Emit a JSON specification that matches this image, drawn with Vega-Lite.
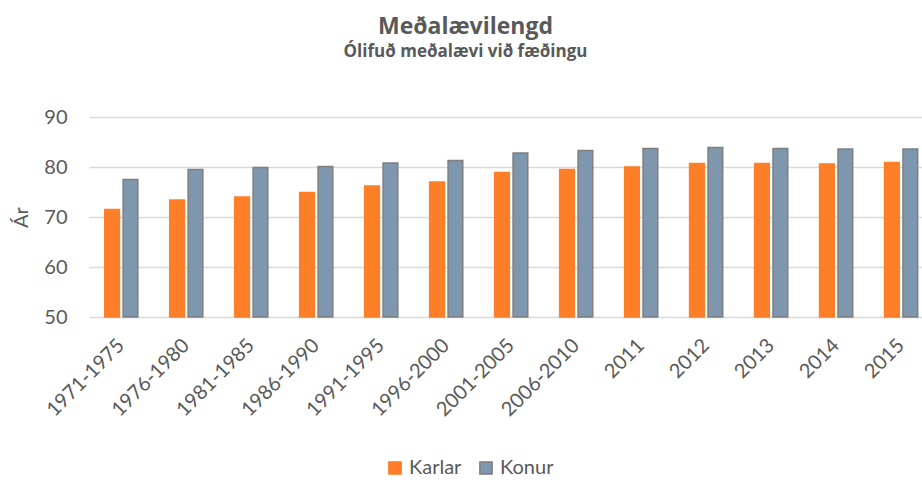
{
  "$schema": "https://vega.github.io/schema/vega-lite/v6.json",
  "autosize": {"type": "none"},
  "width": 833,
  "height": 200,
  "padding": {"left": 89, "top": 117, "right": 0, "bottom": 163},
  "background": "white",
  "config": {
    "font": "Lato",
    "view": {"stroke": null}
  },
  "title": {
    "text": "Meðalævilengd",
    "subtitle": "Ólifuð meðalævi við fæðingu",
    "anchor": "middle",
    "frame": "group",
    "dx": -40,
    "offset": 47,
    "font": "Open Sans",
    "subtitleFont": "Open Sans",
    "fontSize": 23,
    "fontWeight": "bold",
    "color": "#595959",
    "subtitleFontSize": 17,
    "subtitleFontWeight": "bold",
    "subtitleColor": "#595959",
    "subtitlePadding": 5
  },
  "data": {
    "values": [
      {"period": "1971-1975", "series": "Karlar", "value": 71.5},
      {"period": "1971-1975", "series": "Konur", "value": 77.5},
      {"period": "1976-1980", "series": "Karlar", "value": 73.4},
      {"period": "1976-1980", "series": "Konur", "value": 79.5},
      {"period": "1981-1985", "series": "Karlar", "value": 74.0},
      {"period": "1981-1985", "series": "Konur", "value": 79.9},
      {"period": "1986-1990", "series": "Karlar", "value": 74.9},
      {"period": "1986-1990", "series": "Konur", "value": 80.1},
      {"period": "1991-1995", "series": "Karlar", "value": 76.2},
      {"period": "1991-1995", "series": "Konur", "value": 80.8},
      {"period": "1996-2000", "series": "Karlar", "value": 77.0},
      {"period": "1996-2000", "series": "Konur", "value": 81.3},
      {"period": "2001-2005", "series": "Karlar", "value": 78.9},
      {"period": "2001-2005", "series": "Konur", "value": 82.8},
      {"period": "2006-2010", "series": "Karlar", "value": 79.5},
      {"period": "2006-2010", "series": "Konur", "value": 83.3},
      {"period": "2011", "series": "Karlar", "value": 80.0},
      {"period": "2011", "series": "Konur", "value": 83.7},
      {"period": "2012", "series": "Karlar", "value": 80.7},
      {"period": "2012", "series": "Konur", "value": 83.9},
      {"period": "2013", "series": "Karlar", "value": 80.7},
      {"period": "2013", "series": "Konur", "value": 83.7},
      {"period": "2014", "series": "Karlar", "value": 80.6},
      {"period": "2014", "series": "Konur", "value": 83.6},
      {"period": "2015", "series": "Karlar", "value": 80.9},
      {"period": "2015", "series": "Konur", "value": 83.6}
    ]
  },
  "mark": {"type": "bar", "strokeWidth": 1.5},
  "encoding": {
    "x": {
      "field": "period",
      "type": "nominal",
      "sort": null,
      "scale": {"paddingInner": 0.49, "paddingOuter": 0.154, "align": 0.785},
      "axis": {
        "title": null,
        "labelAngle": -45,
        "labelAlign": "right",
        "labelBaseline": "middle",
        "labelFontSize": 20,
        "labelColor": "#595959",
        "labelPadding": 25,
        "ticks": false,
        "domain": false,
        "grid": false
      }
    },
    "xOffset": {
      "field": "series",
      "type": "nominal",
      "scale": {"paddingInner": 0.2}
    },
    "y": {
      "field": "value",
      "type": "quantitative",
      "scale": {"domain": [50, 90], "zero": false, "nice": false},
      "axis": {
        "title": "Ár",
        "titleFontSize": 20,
        "titleFontWeight": "normal",
        "titleColor": "#595959",
        "titlePadding": 12,
        "values": [50, 60, 70, 80, 90],
        "labelFontSize": 20,
        "labelColor": "#595959",
        "labelPadding": 22,
        "ticks": false,
        "domain": false,
        "gridColor": "#d9d9d9",
        "gridWidth": 1.5
      }
    },
    "y2": {"datum": 50},
    "color": {
      "field": "series",
      "type": "nominal",
      "scale": {"domain": ["Karlar", "Konur"], "range": ["#fe7f28", "#7f96af"]},
      "legend": {
        "title": null,
        "orient": "none",
        "legendX": 296,
        "legendY": 341,
        "direction": "horizontal",
        "symbolType": "square",
        "symbolSize": 150,
        "labelFontSize": 20,
        "labelColor": "#595959",
        "columnPadding": 14,
        "labelOffset": 4
      }
    },
    "stroke": {
      "field": "series",
      "type": "nominal",
      "scale": {"domain": ["Karlar", "Konur"], "range": ["#fe7f28", "#7f7f7f"]},
      "legend": null
    }
  }
}
